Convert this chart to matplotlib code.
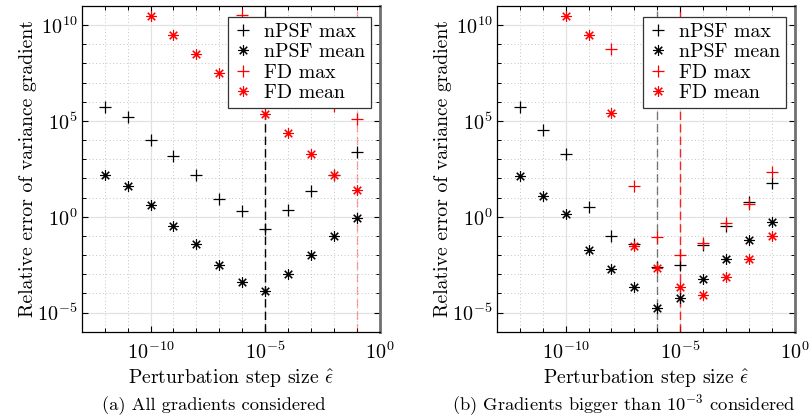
import numpy as np
import matplotlib.pyplot as plt
from matplotlib.ticker import FixedLocator, LogFormatterSciNotation, NullFormatter

plt.rcParams['font.family'] = ['cmr10', 'DejaVu Serif']
plt.rcParams['mathtext.fontset'] = 'cm'
plt.rcParams['axes.formatter.use_mathtext'] = True
plt.rcParams['axes.unicode_minus'] = False

## Step sizes 1e-12 ... 1e-1
eps = 10.0**np.arange(-12, 0)

## (a) all gradients, log10 of relative error
a_npsf_max = [5.73, 5.21, 4.03, 3.17, 2.18, 0.95, 0.29, -0.66, 0.33, 1.34, 2.2, 3.37]
a_npsf_mean = [2.17, 1.63, 0.63, -0.49, -1.41, -2.54, -3.41, -3.88, -2.97, -2.0, -1.01, -0.09]
a_fd_eps = eps[6:]
a_fd_max = [10.52, 9.0, 8.0, 7.0, 5.79, 5.09]
a_fd_mean_eps = eps[2:]
a_fd_mean = [10.49, 9.49, 8.49, 7.48, 6.48, 5.35, 4.35, 3.30, 2.17, 1.39]
a_vlines = [1e-5, 1e-1]

## (b) gradients bigger than 1e-3
b_npsf_max = [5.73, 4.51, 3.29, 0.52, -1.01, -1.41, -2.6, -2.5, -1.48, -0.49, 0.76, 1.77]
b_npsf_mean = [2.12, 1.08, 0.16, -1.74, -2.75, -3.67, -4.75, -4.23, -3.24, -2.23, -1.22, -0.28]
b_fd_eps = eps[4:]
b_fd_max = [8.78, 1.63, -1.06, -1.97, -1.36, -0.35, 0.64, 2.33]
b_fd_mean_eps = eps[2:]
b_fd_mean = [10.49, 9.49, 5.44, -1.53, -2.66, -3.67, -4.06, -3.15, -2.19, -0.98]
b_vlines = [1e-6, 1e-5]

captions = ["(a) All gradients considered",
            "(b) Gradients bigger than $10^{-3}$ considered"]
caption_x = [0.263, 0.769]

ast = (8, 2, 0)  # asterisk marker


def style_axes(ax):
    ax.set_xscale('log')
    ax.set_yscale('log')
    ax.set_xlim(1e-13, 1e0)
    ax.set_ylim(1e-6, 1e11)
    ax.xaxis.set_major_locator(FixedLocator([1e-10, 1e-5, 1e0]))
    ax.xaxis.set_minor_locator(FixedLocator(10.0**np.arange(-13, 1)))
    ax.yaxis.set_major_locator(FixedLocator([1e-5, 1e0, 1e5, 1e10]))
    ax.yaxis.set_minor_locator(FixedLocator(10.0**np.arange(-6, 12)))
    ax.xaxis.set_major_formatter(LogFormatterSciNotation())
    ax.yaxis.set_major_formatter(LogFormatterSciNotation())
    ax.xaxis.set_minor_formatter(NullFormatter())
    ax.yaxis.set_minor_formatter(NullFormatter())
    ax.tick_params(which='both', direction='in', top=True, right=True, labelsize=14.5)
    ax.tick_params(which='major', length=4, width=0.8)
    ax.tick_params(which='minor', length=3, width=0.7)
    ax.tick_params(axis='x', pad=7)
    ax.tick_params(axis='y', pad=3)
    ax.grid(True, which='major', color='#e2e2e2', lw=0.9, ls='-')
    ax.grid(True, which='minor', color='#c4c4c4', lw=0.7, ls=(0, (1, 2.5)))
    ax.set_axisbelow(True)
    for s in ax.spines.values():
        s.set_linewidth(0.9)
    ax.spines['right'].set_linewidth(2.0)
    ax.spines['right'].set_color('#707070')
    ax.set_xlabel(r"Perturbation step size $\hat{\epsilon}$", fontsize=14.2, labelpad=3)
    ax.set_ylabel("Relative error of variance gradient", fontsize=14.2, labelpad=0)


fig = plt.figure(figsize=(8.11, 4.2), dpi=100)
ax1 = fig.add_axes([0.1007, 0.2102, 0.3678, 0.7755])
ax2 = fig.add_axes([0.6125, 0.2102, 0.3678, 0.7755])

panels = [
    (ax1, a_npsf_max, a_npsf_mean, a_fd_eps, a_fd_max, a_fd_mean_eps, a_fd_mean, a_vlines,
     [('k', 1.0), ('#ff0000', 0.35)]),
    (ax2, b_npsf_max, b_npsf_mean, b_fd_eps, b_fd_max, b_fd_mean_eps, b_fd_mean, b_vlines,
     [('k', 0.5), ('#ff0000', 0.85)]),
]

for i, (ax, nmax, nmean, fe, fmax, fme, fmean, vl, vst) in enumerate(panels):
    for x, (c, a) in zip(vl, vst):
        ax.axvline(x, color=c, alpha=a, ls=(0, (6, 3)), lw=1.0, zorder=1.5)
    ax.plot(eps, 10.0**np.array(nmax), ls='none', marker='+', ms=9, mew=0.9, color='k', label='nPSF max')
    ax.plot(eps, 10.0**np.array(nmean), ls='none', marker=ast, ms=7.5, mew=0.8, color='k', label='nPSF mean')
    ax.plot(fe, 10.0**np.array(fmax), ls='none', marker='+', ms=9, mew=0.9, color='#ff0000', label='FD max')
    ax.plot(fme, 10.0**np.array(fmean), ls='none', marker=ast, ms=7.5, mew=0.8, color='#ff0000', label='FD mean')
    style_axes(ax)
    leg = ax.legend(loc='upper right', bbox_to_anchor=(0.97, 0.966), fontsize=14.3, fancybox=False,
                    framealpha=1, edgecolor='#333333', borderpad=0.3, labelspacing=0.12,
                    handletextpad=0.6, handlelength=0.9, borderaxespad=0)
    leg.get_frame().set_linewidth(0.9)
    fig.text(caption_x[i], 0.035, captions[i], ha='center', va='center', fontsize=13.3)

fig.savefig("out.png", dpi=100)
